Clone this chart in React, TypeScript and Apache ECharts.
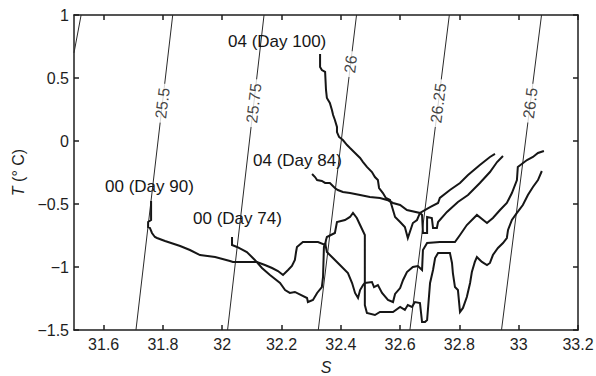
import React, { useEffect, useRef } from "react";
import * as echarts from "echarts";

const W = 596;
const H = 376;
const GRID = { left: 74, top: 15, width: 504, height: 315 };
const S_MIN = 31.5;
const S_MAX = 33.2;
const T_MIN = -1.5;
const T_MAX = 1;
const FONT = '"Liberation Sans", Arial, Helvetica, sans-serif';

const sTicks = [31.6, 31.8, 32, 32.2, 32.4, 32.6, 32.8, 33, 33.2];
const tTicks = [-1.5, -1, -0.5, 0, 0.5, 1];

// sigma-t isopycnals: end points [S, T] and the temperature where each label sits
const sigmaLevels = ["25.25", "25.5", "25.75", "26", "26.25", "26.5"];
const sigmaLow = [
  [31.5, 0.7],
  [31.709, -1.5],
  [32.018, -1.5],
  [32.324, -1.5],
  [32.633, -1.5],
  [32.942, -1.5],
];
const sigmaHigh = [
  [31.524, 1.0],
  [31.833, 1.0],
  [32.141, 1.0],
  [32.453, 1.0],
  [32.766, 1.0],
  [33.077, 1.0],
];
const sigmaLabelT = [null, 0.3, 0.3, 0.61, 0.3, 0.3];

// T-S profiles, surface first
const day90 = [
  [31.76, -0.476], [31.76, -0.627], [31.75, -0.643], [31.75, -0.683], [31.756, -0.69],
  [31.763, -0.73], [31.773, -0.762], [31.78, -0.77], [31.807, -0.794], [31.858, -0.833],
  [31.891, -0.865], [31.925, -0.905], [31.976, -0.921], [32.026, -0.952], [32.036, -0.96],
  [32.117, -0.96], [32.144, -0.984], [32.168, -1.008], [32.188, -1.032], [32.205, -1.063],
  [32.222, -1.024], [32.235, -0.992], [32.245, -0.944], [32.249, -0.881], [32.252, -0.841],
  [32.272, -0.802], [32.323, -0.802], [32.347, -0.825], [32.35, -0.786], [32.353, -0.762],
  [32.38, -0.73], [32.387, -0.643], [32.414, -0.627], [32.431, -0.603], [32.441, -0.571],
  [32.454, -0.611], [32.465, -0.667], [32.481, -0.746], [32.481, -1.302], [32.488, -1.365],
  [32.515, -1.381], [32.532, -1.357], [32.576, -1.357], [32.6, -1.317], [32.616, -1.341],
  [32.626, -1.302], [32.64, -1.317], [32.65, -1.278], [32.667, -1.286], [32.674, -1.437],
  [32.684, -1.437], [32.691, -1.421], [32.701, -1.127], [32.711, -1.024], [32.718, -0.929],
  [32.728, -0.889], [32.768, -0.889], [32.775, -0.968], [32.778, -1.048], [32.785, -1.159],
  [32.795, -1.183], [32.802, -1.357], [32.812, -1.325], [32.825, -1.238], [32.836, -1.127],
  [32.842, -1.04], [32.852, -0.96], [32.859, -0.921], [32.869, -0.944], [32.876, -0.96],
  [32.893, -0.984], [32.903, -0.968], [32.913, -0.905], [32.93, -0.849], [32.947, -0.81],
  [32.96, -0.77], [32.964, -0.706], [32.977, -0.627], [32.994, -0.571], [33.014, -0.508],
  [33.031, -0.429], [33.048, -0.365], [33.065, -0.31], [33.078, -0.238],
];

const day74 = [
  [32.033, -0.762], [32.033, -0.825], [32.05, -0.841], [32.083, -0.881], [32.11, -0.944],
  [32.134, -1.008], [32.161, -1.063], [32.195, -1.127], [32.212, -1.183], [32.228, -1.206],
  [32.245, -1.198], [32.286, -1.246], [32.289, -1.278], [32.306, -1.262], [32.32, -1.206],
  [32.336, -1.159], [32.34, -1.079], [32.343, -0.841], [32.347, -0.81], [32.353, -0.881],
  [32.37, -0.921], [32.397, -0.984], [32.424, -1.048], [32.438, -1.127], [32.448, -1.206],
  [32.458, -1.246], [32.465, -1.183], [32.475, -1.143], [32.481, -1.127], [32.505, -1.119],
  [32.512, -1.159], [32.525, -1.143], [32.539, -1.206], [32.559, -1.262], [32.576, -1.278],
  [32.583, -1.214], [32.6, -1.167], [32.61, -1.103], [32.623, -1.04], [32.643, -1.0],
  [32.66, -0.992], [32.674, -1.024], [32.677, -0.865], [32.691, -0.81], [32.734, -0.802],
  [32.785, -0.802], [32.802, -0.746], [32.825, -0.667], [32.859, -0.587], [32.893, -0.651],
  [32.913, -0.611], [32.937, -0.548], [32.96, -0.492], [32.977, -0.413], [32.994, -0.31],
  [32.997, -0.206], [33.028, -0.151], [33.048, -0.127], [33.065, -0.095], [33.085, -0.079],
];

const day100 = [
  [32.33, 0.69], [32.33, 0.587], [32.336, 0.563], [32.347, 0.548], [32.35, 0.405],
  [32.353, 0.341], [32.363, 0.302], [32.37, 0.246], [32.374, 0.206], [32.38, 0.167],
  [32.387, 0.111], [32.387, 0.071], [32.394, 0.032], [32.407, 0.008], [32.421, -0.032],
  [32.431, -0.056], [32.448, -0.095], [32.465, -0.135], [32.475, -0.167], [32.488, -0.206],
  [32.505, -0.246], [32.515, -0.286], [32.525, -0.31], [32.529, -0.373], [32.542, -0.413],
  [32.552, -0.452], [32.566, -0.468], [32.583, -0.603], [32.6, -0.643], [32.616, -0.683],
  [32.626, -0.77], [32.643, -0.651], [32.657, -0.627], [32.667, -0.571], [32.701, -0.524],
  [32.728, -0.492], [32.734, -0.452], [32.768, -0.389], [32.802, -0.333], [32.829, -0.27],
  [32.869, -0.19], [32.903, -0.127], [32.92, -0.103],
];

const day84 = [
  [32.303, -0.262], [32.313, -0.286], [32.32, -0.31], [32.336, -0.317], [32.347, -0.333],
  [32.363, -0.333], [32.38, -0.373], [32.39, -0.389], [32.407, -0.405], [32.431, -0.413],
  [32.465, -0.429], [32.498, -0.444], [32.532, -0.452], [32.556, -0.468], [32.576, -0.492],
  [32.6, -0.508], [32.623, -0.548], [32.667, -0.571], [32.674, -0.587], [32.677, -0.73],
  [32.691, -0.73], [32.691, -0.603], [32.707, -0.611], [32.711, -0.69], [32.724, -0.69],
  [32.728, -0.643], [32.758, -0.563], [32.795, -0.484], [32.829, -0.429], [32.869, -0.333],
  [32.903, -0.246], [32.927, -0.167], [32.947, -0.119],
];

const profileNames = ["00 (Day 90)", "00 (Day 74)", "04 (Day 84)", "04 (Day 100)"];
const profiles = [day90, day74, day84, day100];

const minus = (v: number) => (v < 0 ? "\u2212" + String(Math.abs(v)) : String(v));

export default function App() {
  const ref = useRef<HTMLDivElement>(null);

  useEffect(() => {
    if (!ref.current) return;
    const chart = echarts.init(ref.current, null, { renderer: "svg" });

    const pxPerS = GRID.width / (S_MAX - S_MIN);
    const pxPerT = GRID.height / (T_MAX - T_MIN);

    const isoSeries = sigmaLevels.map((lvl, i) => ({
      type: "line",
      name: "sigma " + lvl,
      data: [sigmaLow[i], sigmaHigh[i]],
      symbol: "none",
      silent: true,
      z: 1,
      lineStyle: { color: "#2a2a2a", width: 1 },
    }));

    const isoLabels = sigmaLevels
      .map((lvl, i) => {
        const t = sigmaLabelT[i];
        if (t === null) return null;
        const [s0, t0] = sigmaLow[i];
        const [s1, t1] = sigmaHigh[i];
        const f = (t - t0) / (t1 - t0);
        const s = s0 + f * (s1 - s0);
        const angle = (Math.atan2((t1 - t0) * pxPerT, (s1 - s0) * pxPerS) * 180) / Math.PI;
        return { name: lvl, value: [s, t], label: { rotate: angle } };
      })
      .filter(Boolean);

    const profileSeries = profiles.map((d, i) => ({
      type: "line",
      name: profileNames[i],
      data: d,
      symbol: "none",
      z: 2,
      lineStyle: { color: "#161616", width: 2, join: "miter" },
    }));

    const annotations = [
      { text: profileNames[0], x: 105, y: 186 },
      { text: profileNames[1], x: 193, y: 218 },
      { text: profileNames[2], x: 253, y: 160 },
      { text: profileNames[3], x: 228, y: 41 },
    ];

    const axisLine = { onZero: false, lineStyle: { color: "#1e1e1e", width: 1.5 } };
    const tick = (vals: number[]) => ({
      inside: true,
      length: 5,
      customValues: vals,
      lineStyle: { color: "#1e1e1e", width: 1.5 },
    });

    chart.setOption({
      animation: false,
      backgroundColor: "#ffffff",
      textStyle: { fontFamily: FONT },
      grid: {
        left: GRID.left,
        top: GRID.top,
        width: GRID.width,
        height: GRID.height,
        containLabel: false,
        outerBoundsMode: "none",
      },
      xAxis: [
        {
          type: "value",
          position: "bottom",
          min: S_MIN,
          max: S_MAX,
          axisLine,
          axisTick: tick(sTicks),
          axisLabel: {
            customValues: sTicks,
            formatter: (v: number) => minus(v),
            margin: 6,
            fontSize: 16,
            color: "#1e1e1e",
            fontFamily: FONT,
          },
          splitLine: { show: false },
          name: "S",
          nameLocation: "middle",
          nameGap: 29,
          nameTextStyle: { fontSize: 16, fontStyle: "italic", color: "#1e1e1e", fontFamily: FONT },
        },
        {
          type: "value",
          position: "top",
          min: S_MIN,
          max: S_MAX,
          axisLine,
          axisTick: tick(sTicks),
          axisLabel: { show: false },
          splitLine: { show: false },
        },
      ],
      yAxis: [
        {
          type: "value",
          position: "left",
          min: T_MIN,
          max: T_MAX,
          interval: 0.5,
          axisLine,
          axisTick: tick(tTicks),
          axisLabel: {
            customValues: tTicks,
            formatter: (v: number) => minus(v),
            margin: 5,
            fontSize: 16,
            color: "#1e1e1e",
            fontFamily: FONT,
          },
          splitLine: { show: false },
          name: "{i|T} (\u00b0 C)",
          nameLocation: "middle",
          nameGap: 48,
          nameTextStyle: {
            fontSize: 16,
            color: "#1e1e1e",
            fontFamily: FONT,
            rich: { i: { fontStyle: "italic", fontSize: 16, color: "#1e1e1e", fontFamily: FONT } },
          },
        },
        {
          type: "value",
          position: "right",
          min: T_MIN,
          max: T_MAX,
          interval: 0.5,
          axisLine,
          axisTick: tick(tTicks),
          axisLabel: { show: false },
          splitLine: { show: false },
        },
      ],
      series: [
        ...isoSeries,
        {
          type: "scatter",
          name: "sigma labels",
          data: isoLabels,
          symbolSize: 1,
          silent: true,
          z: 3,
          itemStyle: { color: "rgba(0,0,0,0)" },
          label: {
            show: true,
            position: "inside",
            formatter: (p: any) => p.name,
            fontSize: 16,
            color: "#111111",
            fontFamily: FONT,
            backgroundColor: "#ffffff",
            padding: [0, 4],
          },
        },
        ...profileSeries,
      ],
      graphic: annotations.map((a) => ({
        type: "text",
        x: a.x,
        y: a.y,
        z: 10,
        style: {
          text: a.text,
          font: `17px ${FONT}`,
          fill: "#161616",
          align: "left",
          verticalAlign: "middle",
        },
      })),
    });

    return () => chart.dispose();
  }, []);

  return (
    <div
      ref={ref}
      style={{ position: "fixed", left: 0, top: 0, width: W, height: H, background: "#fff" }}
    />
  );
}
